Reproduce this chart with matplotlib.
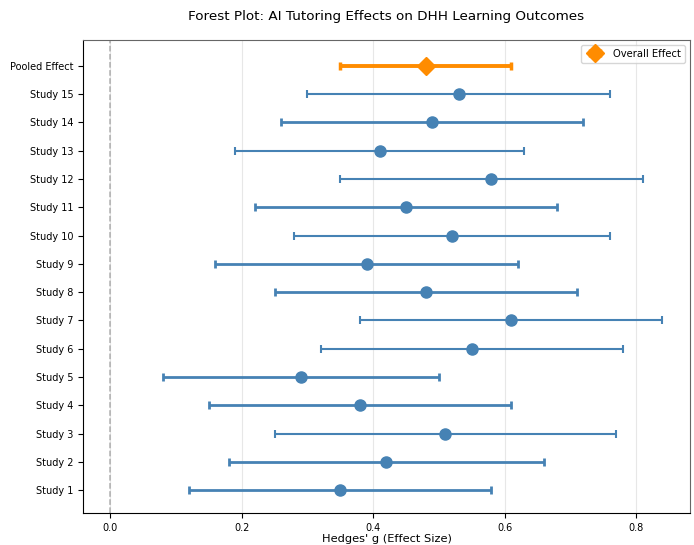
import matplotlib
matplotlib.use("Agg")
import matplotlib.pyplot as plt
import numpy as np

studies = [f"Study {i}" for i in range(1, 16)]
effects = [0.35, 0.42, 0.51, 0.38, 0.29, 0.55, 0.61, 0.48, 0.39, 0.52, 0.45, 0.58, 0.41, 0.49, 0.53]
ci_low = [0.12, 0.18, 0.25, 0.15, 0.08, 0.32, 0.38, 0.25, 0.16, 0.28, 0.22, 0.35, 0.19, 0.26, 0.30]
ci_high = [0.58, 0.66, 0.77, 0.61, 0.50, 0.78, 0.84, 0.71, 0.62, 0.76, 0.68, 0.81, 0.63, 0.72, 0.76]
line_widths = [2.0, 2.0, 1.5, 2.0, 2.0, 1.5, 1.5, 2.0, 2.0, 1.5, 2.0, 1.5, 1.5, 2.0, 1.5]
pooled_label = "Pooled Effect"
pooled_effect = 0.48
pooled_low = 0.35
pooled_high = 0.61

fig, ax = plt.subplots(figsize=(6.94, 5.45), dpi=100)
fig.subplots_adjust(left=0.12, right=0.994, top=0.927, bottom=0.059)

ypos = np.arange(len(studies))
for y, e, lo, hi, lw in zip(ypos, effects, ci_low, ci_high, line_widths):
    ax.errorbar(e, y, xerr=[[e - lo], [hi - e]], fmt='o', color='#4682B4',
                ecolor='#4682B4', elinewidth=lw, capsize=3, capthick=lw,
                markersize=8, zorder=3)

py = len(studies)
ax.errorbar(pooled_effect, py, xerr=[[pooled_effect - pooled_low], [pooled_high - pooled_effect]],
            fmt='D', color='#FF8C00', ecolor='#FF8C00', elinewidth=2.8, capsize=3,
            capthick=2.5, markersize=9.5, label='Overall Effect', zorder=4)

ax.axvline(0, color='gray', linestyle='--', linewidth=1.1, alpha=0.6)
ax.set_yticks(list(ypos) + [py])
ax.set_yticklabels(studies + [pooled_label], fontsize=7)
ax.tick_params(axis='x', labelsize=7)
ax.set_xlim(-0.041, 0.882)
ax.set_ylim(-0.8, 15.92)
ax.grid(axis='x', alpha=0.3)
ax.set_axisbelow(True)
ax.set_xlabel("Hedges' g (Effect Size)", fontsize=8.2, labelpad=1)
ax.set_title("Forest Plot: AI Tutoring Effects on DHH Learning Outcomes", fontsize=9.7, pad=14)
ax.legend(loc='upper right', fontsize=7.2, markerscale=0.95)
for s in ['top', 'right']:
    ax.spines[s].set_color('#666666')

fig.savefig("out.png", dpi=100)
